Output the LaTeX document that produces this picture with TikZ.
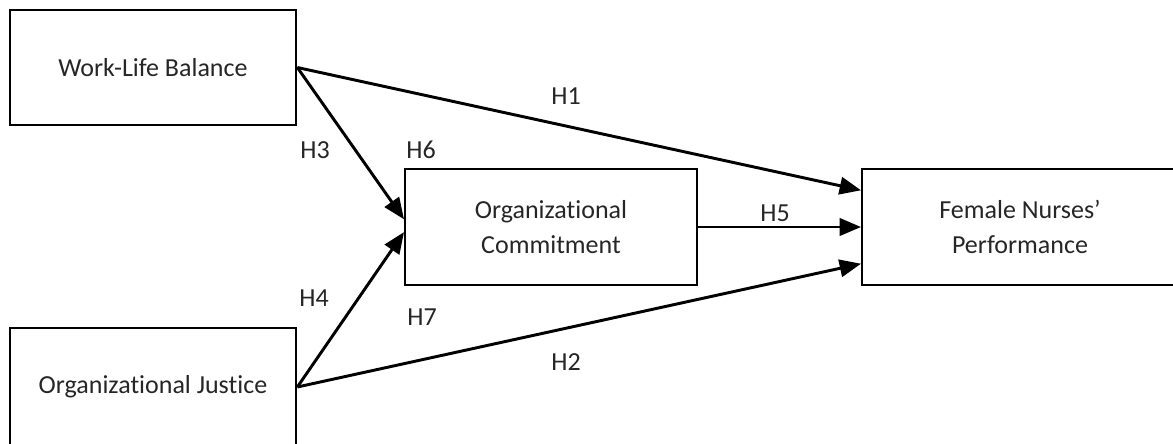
\documentclass[tikz,border=0pt]{standalone}
\usepackage{fontspec}
\setmainfont[Ligatures=NoCommon]{Carlito}
\usetikzlibrary{arrows.meta}
\usetikzlibrary{positioning}
\definecolor{mtext}{rgb}{0.15, 0.15, 0.15}

\begin{document}
\begin{tikzpicture}[x=0.75pt, y=-0.75pt,
    var/.style={draw, line width=1.5pt, inner sep=0pt, align=center, text=mtext,
      font=\fontsize{19.5}{26.5}\selectfont},
    hyp/.style={text=mtext, inner sep=0pt, font=\fontsize{19.5}{26.5}\selectfont},
    path/.style={line width=2.2pt, -{Triangle[length=16pt, width=13pt]}}]
    \useasboundingbox (0, 0) rectangle (1173, 443);
    \clip (0, 0) rectangle (1173, 443);

    \node [var, minimum width=215pt, minimum height=86pt] (wlb) at (153, 67.5) {Work-Life Balance};
    \node [var, minimum width=215pt, minimum height=88pt] (oj) at (153, 387) {Organizational Justice};
    \node [var, minimum width=219pt, minimum height=87pt] (oc) at (551, 227) {Organizational\\Commitment};
    \node [var, minimum width=237pt, minimum height=87pt] (fnp) at (1020, 227) {Female Nurses'\\Performance};

    \draw [path] (wlb.east) -- (fnp.167.5);
    \draw [path] (wlb.east) -- (oc.177.6);
    \draw [path] (oj.east) -- (oc.182);
    \draw [path] (oj.east) -- (fnp.193.5);
    \draw [path] (oc.east) -- (fnp.west);

    \node [hyp] (h1) at (566, 96) {H1};
    \node [hyp] (h2) at (566, 362) {H2};
    \node [hyp] (h3) at (315, 150) {H3};
    \node [hyp] (h4) at (314, 298) {H4};
    \node [hyp] (h5) at (775, 213) {H5};
    \node [hyp] (h6) at (421, 150) {H6};
    \node [hyp] (h7) at (422, 317) {H7};
  \end{tikzpicture}
\end{document}
